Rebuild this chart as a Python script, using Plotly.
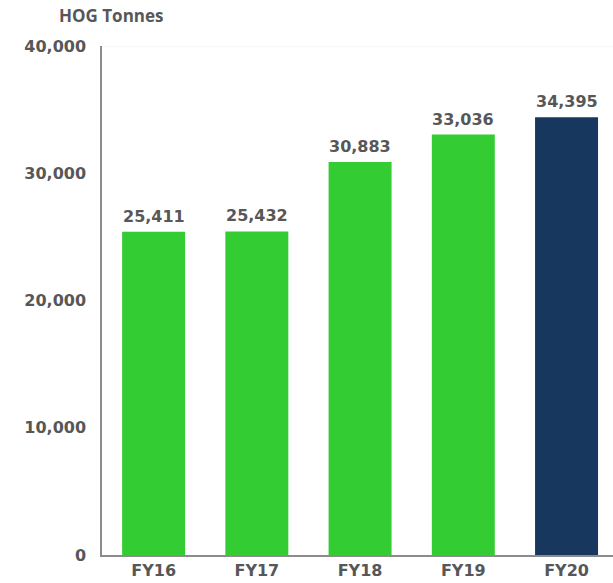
import plotly.graph_objects as go

# HOG production by fiscal year
years = ["FY16", "FY17", "FY18", "FY19", "FY20"]
tonnes = [25411, 25432, 30883, 33036, 34395]
bar_colors = ["#33CC33", "#33CC33", "#33CC33", "#33CC33", "#17375E"]
y_ticks = [0, 10000, 20000, 30000, 40000]

label_font = dict(family="DejaVu Sans", size=16, color="#575757")

fig = go.Figure(
    go.Bar(
        x=years,
        y=tonnes,
        marker=dict(color=bar_colors, line=dict(width=0)),
        width=0.61,
        hoverinfo="skip",
    )
)

# value labels above each bar
for yr, v in zip(years, tonnes):
    fig.add_annotation(
        x=yr, y=v, text=f"<b>{v:,}</b>", showarrow=False,
        yanchor="bottom", yshift=4, font=label_font,
    )

# axis unit caption
fig.add_annotation(
    xref="paper", yref="paper", x=-45 / 511, y=1 + 31 / 509,
    xanchor="left", yanchor="middle", showarrow=False,
    text="<b>HOG Tonnes</b>",
    font=dict(family="Open Sans", size=17, color="#575757"),
)

# faint top boundary at 40,000
fig.add_shape(
    type="line", xref="paper", yref="y", x0=0, x1=1, y0=40000, y1=40000,
    line=dict(color="#F2F2F2", width=1),
)

fig.update_layout(
    width=613, height=583,
    margin=dict(l=102, r=0, t=46, b=28),
    paper_bgcolor="white", plot_bgcolor="white",
    showlegend=False,
    bargap=0.39,
)
fig.update_xaxes(
    range=[-0.5, 4.45],
    showline=True, linecolor="#8C8C8C", linewidth=1.5,
    showgrid=False, ticks="",
    tickfont=label_font,
    tickvals=years, ticktext=[f"<b>{y}</b>" for y in years],
)
fig.update_yaxes(
    range=[0, 40000],
    tickvals=y_ticks, ticktext=[f"<b>{t:,}</b>" for t in y_ticks],
    showline=True, linecolor="#8C8C8C", linewidth=1.5,
    showgrid=False, zeroline=False, ticks="",
    ticklabelstandoff=11,
    tickfont=label_font,
)

fig.write_html("out.html")
